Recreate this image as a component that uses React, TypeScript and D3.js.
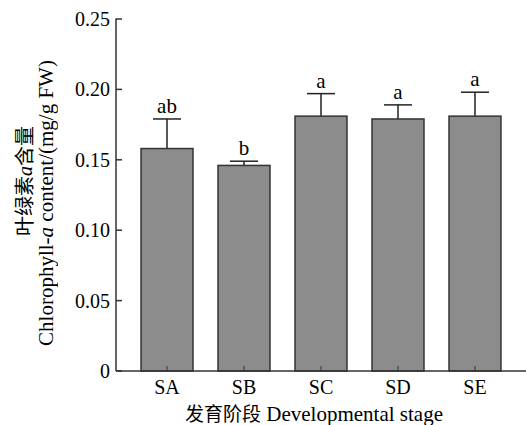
import React from 'react';
import * as d3 from 'd3';

const categories = ['SA', 'SB', 'SC', 'SD', 'SE'];
const means = [0.158, 0.146, 0.181, 0.179, 0.181];
const errors = [0.021, 0.003, 0.016, 0.010, 0.017];
const letters = ['ab', 'b', 'a', 'a', 'a'];
const yTicks = [0, 0.05, 0.1, 0.15, 0.2, 0.25];

const W = 526;
const H = 425;
const margin = { top: 19, right: 0, bottom: 54, left: 116 };
const font = '"Liberation Serif", "Times New Roman", serif';
const cjk = '"Noto Sans CJK SC", sans-serif';

export default function App() {
  const x = d3.scaleBand<string>()
    .domain(categories)
    .range([margin.left, W - margin.right])
    .padding(0.325);
  const y = d3.scaleLinear()
    .domain([0, 0.25])
    .range([H - margin.bottom, margin.top]);

  const y0 = y(0);
  const bw = x.bandwidth();
  const cap = 28;

  return (
    <svg width={W} height={H} style={{ position: 'absolute', left: 0, top: 0, fontFamily: font }}>
      <rect width={W} height={H} fill="#fff" />
      {categories.map((c, i) => {
        const cx = (x(c) as number) + bw / 2;
        const top = y(means[i]);
        const et = y(means[i] + errors[i]);
        return (
          <g key={c}>
            <line x1={cx} x2={cx} y1={top} y2={et} stroke="#222" strokeWidth={1.5} />
            <line x1={cx - cap / 2} x2={cx + cap / 2} y1={et} y2={et} stroke="#222" strokeWidth={1.5} />
            <rect x={x(c)} y={top} width={bw} height={y0 - top} fill="#8c8c8c" stroke="#333" strokeWidth={1.5} />
            <line x1={cx} x2={cx} y1={y0} y2={y0 - 5} stroke="#333" strokeWidth={1} />
            <text x={cx} y={et - 6} textAnchor="middle" fontSize={21} fill="#000">{letters[i]}</text>
            <text x={cx} y={y0 + 23} textAnchor="middle" fontSize={20} fill="#000">{c}</text>
          </g>
        );
      })}
      <line x1={margin.left} x2={margin.left} y1={margin.top - 0.5} y2={y0} stroke="#333" strokeWidth={1.5} />
      <line x1={margin.left} x2={W} y1={y0} y2={y0} stroke="#333" strokeWidth={1.5} />
      {yTicks.map(t => (
        <g key={t}>
          <line x1={margin.left} x2={margin.left + 6} y1={y(t)} y2={y(t)} stroke="#333" strokeWidth={1.5} />
          <text x={margin.left - 6} y={y(t)} dy="0.35em" textAnchor="end" fontSize={20} fill="#000">
            {t === 0 ? '0' : d3.format('.2f')(t)}
          </text>
        </g>
      ))}
      <text x={314} y={421} textAnchor="middle" fontSize={21} fill="#000">
        <tspan fontFamily={cjk} fontSize={19}>发育阶段</tspan> Developmental stage
      </text>
      <g style={{ opacity: 0.999 }}>
        <text transform={`translate(32,181) rotate(-90)`} textAnchor="middle" fontSize={20} fill="#000">
          <tspan fontFamily={cjk}>叶绿素</tspan><tspan fontStyle="italic">a</tspan><tspan fontFamily={cjk}>含量</tspan>
        </text>
        <text transform={`translate(53,203) rotate(-90)`} textAnchor="middle" fontSize={21} fill="#000">
          Chlorophyll-<tspan fontStyle="italic">a</tspan> content/(mg/g FW)
        </text>
      </g>
    </svg>
  );
}
